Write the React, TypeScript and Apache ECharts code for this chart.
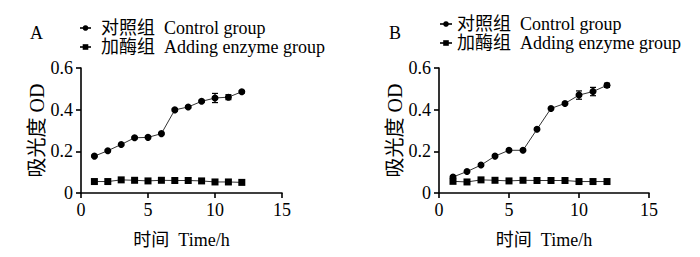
import React, { useEffect, useRef } from "react";
import * as echarts from "echarts";

const hours = [1, 2, 3, 4, 5, 6, 7, 8, 9, 10, 11, 12];
const controlA = [0.177, 0.203, 0.233, 0.265, 0.267, 0.285, 0.399, 0.413, 0.44, 0.456, 0.46, 0.486];
const controlAErr = [0.004, 0.004, 0.004, 0.004, 0.004, 0.004, 0.005, 0.004, 0.005, 0.022, 0.012, 0.006];
const enzymeA = [0.055, 0.055, 0.063, 0.061, 0.058, 0.061, 0.06, 0.06, 0.058, 0.053, 0.053, 0.051];
const controlB = [0.077, 0.103, 0.134, 0.177, 0.205, 0.205, 0.306, 0.406, 0.43, 0.47, 0.487, 0.517];
const controlBErr = [0.004, 0.004, 0.004, 0.004, 0.004, 0.004, 0.005, 0.004, 0.005, 0.02, 0.02, 0.01];
const enzymeB = [0.056, 0.053, 0.063, 0.061, 0.058, 0.061, 0.06, 0.06, 0.06, 0.055, 0.055, 0.055];
const xTicks = [0, 5, 10, 15];
const yTicks = [0, 0.2, 0.4, 0.6];
const nameControl = "对照组  Control group";
const nameEnzyme = "加酶组  Adding enzyme group";
const panelLabels = ["A", "B"];
const xTitle = "时间  Time/h";
const yTitle = "吸光度 OD";

const FONT = "'Liberation Serif', 'Times New Roman', 'Noto Sans CJK SC', serif";

export default function App() {
  const ref = useRef<HTMLDivElement>(null);
  useEffect(() => {
    if (!ref.current) return;
    const chart = echarts.init(ref.current, undefined, { renderer: "svg" });
    const grids = [
      { left: 81, top: 68, width: 201, height: 125 },
      { left: 439, top: 68, width: 210, height: 125 },
    ];
    const axisLine = { show: true, lineStyle: { color: "#000", width: 1.6 } };
    const axisTick = { show: true, inside: false, length: 5, lineStyle: { color: "#000", width: 1.6 } };
    const axisLabel = { color: "#000", fontFamily: FONT, fontSize: 18 };
    const xAxes = grids.map((_, i) => ({
      type: "value",
      gridIndex: i,
      min: xTicks[0],
      max: xTicks[xTicks.length - 1],
      interval: 5,
      axisLine,
      axisTick,
      splitLine: { show: false },
      axisLabel: { ...axisLabel, margin: 8 },
      name: xTitle,
      nameLocation: "middle",
      nameGap: 38,
      nameTextStyle: { color: "#000", fontFamily: FONT, fontSize: 18 },
    }));
    const yAxes = grids.map((_, i) => ({
      type: "value",
      gridIndex: i,
      min: yTicks[0],
      max: yTicks[yTicks.length - 1],
      interval: 0.2,
      axisLine,
      axisTick,
      splitLine: { show: false },
      axisLabel: {
        ...axisLabel,
        margin: 8,
        formatter: (v: number) => (v === 0 ? "0" : v.toFixed(1)),
      },
      name: yTitle,
      nameLocation: "middle",
      nameGap: 33,
      nameRotate: 90,
      nameTextStyle: { color: "#000", fontFamily: FONT, fontSize: 20 },
    }));
    const lineSeries = (name: string, data: number[], symbol: string, idx: number) => ({
      type: "line",
      name,
      xAxisIndex: idx,
      yAxisIndex: idx,
      data: hours.map((h, k) => [h, data[k]]),
      symbol,
      symbolSize: 7,
      lineStyle: { color: "#333", width: 1 },
      itemStyle: { color: "#000" },
      z: 3,
    });
    const errSeries = (data: number[], err: number[], idx: number) => ({
      type: "custom",
      xAxisIndex: idx,
      yAxisIndex: idx,
      data: hours.map((h, k) => [h, data[k], err[k]]),
      z: 2,
      renderItem: (_p: any, api: any) => {
        const x = api.value(0);
        const y = api.value(1);
        const e = api.value(2);
        const top = api.coord([x, y + e]);
        const bot = api.coord([x, y - e]);
        const w = 3;
        const style = { stroke: "#000", lineWidth: 1.2 };
        return {
          type: "group",
          children: [
            { type: "line", shape: { x1: top[0], y1: top[1], x2: bot[0], y2: bot[1] }, style },
            { type: "line", shape: { x1: top[0] - w, y1: top[1], x2: top[0] + w, y2: top[1] }, style },
            { type: "line", shape: { x1: bot[0] - w, y1: bot[1], x2: bot[0] + w, y2: bot[1] }, style },
          ],
        };
      },
    });
    const legendCommon = {
      orient: "vertical",
      itemHeight: 7,
      itemGap: 1,
      data: [nameControl, nameEnzyme],
      selectedMode: false,
    };
    chart.setOption({
      animation: false,
      grid: grids,
      xAxis: xAxes,
      yAxis: yAxes,
      legend: [
        {
          ...legendCommon,
          left: 74,
          top: 14,
          itemWidth: 11,
          textStyle: { color: "#000", fontFamily: FONT, fontSize: 18, padding: [0, 0, 0, 5] },
        },
        {
          ...legendCommon,
          left: 434,
          top: 10,
          itemWidth: 12,
          textStyle: { color: "#000", fontFamily: FONT, fontSize: 18, padding: [0, 0, 0, 0] },
        },
      ],
      graphic: [
        { type: "text", left: 30, top: 24, style: { text: panelLabels[0], font: `18px ${FONT}`, fill: "#000" } },
        { type: "text", left: 389, top: 24, style: { text: panelLabels[1], font: `18px ${FONT}`, fill: "#000" } },
      ],
      series: [
        errSeries(controlA, controlAErr, 0),
        lineSeries(nameControl, controlA, "circle", 0),
        lineSeries(nameEnzyme, enzymeA, "rect", 0),
        errSeries(controlB, controlBErr, 1),
        lineSeries(nameControl, controlB, "circle", 1),
        lineSeries(nameEnzyme, enzymeB, "rect", 1),
      ],
    });
    return () => chart.dispose();
  }, []);
  return (
    <div
      ref={ref}
      style={{ position: "fixed", left: 0, top: 0, width: 700, height: 257, background: "#fff" }}
    />
  );
}
